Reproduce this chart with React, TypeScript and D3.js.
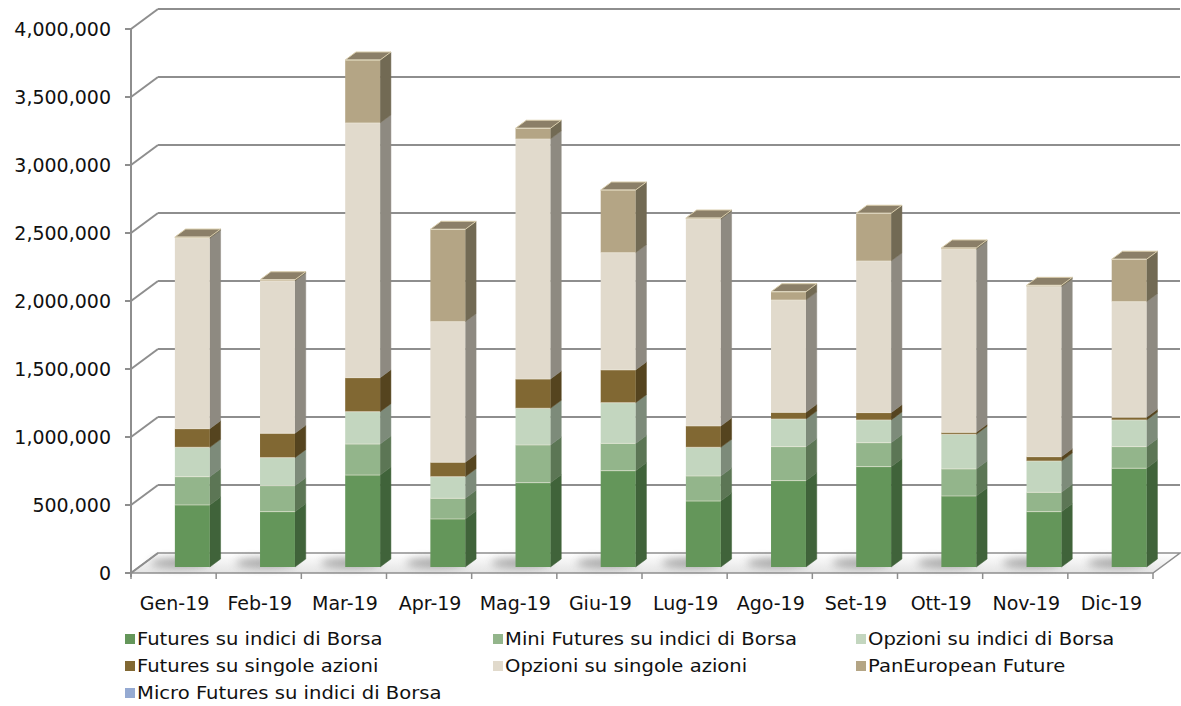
import * as d3 from "d3";

const months = ["Gen-19", "Feb-19", "Mar-19", "Apr-19", "Mag-19", "Giu-19", "Lug-19", "Ago-19", "Set-19", "Ott-19", "Nov-19", "Dic-19"];

const futuresIndici = [456000, 407000, 676000, 353000, 620000, 708000, 485000, 635000, 738000, 522000, 407000, 726000];
const miniFutures = [208000, 191000, 228000, 152000, 277000, 201000, 184000, 250000, 176000, 199000, 142000, 159000];
const opzioniIndici = [216000, 206000, 238000, 159000, 270000, 299000, 211000, 203000, 167000, 255000, 230000, 196000];
const futuresAzioni = [137000, 179000, 250000, 106000, 215000, 241000, 157000, 49000, 54000, 14000, 32000, 20000];
const opzioniAzioni = [1400000, 1120000, 1873000, 1034000, 1765000, 862000, 1520000, 826000, 1115000, 1346000, 1250000, 850000];
const panEuropean = [9000, 9000, 463000, 679000, 79000, 461000, 9000, 61000, 351000, 10000, 10000, 312000];
const microFutures = [0, 0, 0, 0, 0, 0, 0, 0, 0, 0, 0, 0];

const yTicks = [0, 500000, 1000000, 1500000, 2000000, 2500000, 3000000, 3500000, 4000000];

const series = [
  { name: "Futures su indici di Borsa", values: futuresIndici, front: "#64965a", side: "#40633a", top: "#4f7a47" },
  { name: "Mini Futures su indici di Borsa", values: miniFutures, front: "#93b58b", side: "#5c7655", top: "#7a9a72" },
  { name: "Opzioni su indici di Borsa", values: opzioniIndici, front: "#c3d6bf", side: "#7d8b7a", top: "#a3b49f" },
  { name: "Futures su singole azioni", values: futuresAzioni, front: "#816833", side: "#55441f", top: "#6a5528" },
  { name: "Opzioni su singole azioni", values: opzioniAzioni, front: "#e1dacc", side: "#8e8a81", top: "#b8b1a3" },
  { name: "PanEuropean Future", values: panEuropean, front: "#b4a585", side: "#726a54", top: "#8b7f68" },
  { name: "Micro Futures su indici di Borsa", values: microFutures, front: "#95aad2", side: "#5f6f8f", top: "#7a8db3" },
];

export default function App() {
  const width = 1181;
  const height = 706;
  const left = 131;
  const right = 1153;
  const base = 573;
  const depthX = 27;
  const depthY = -20;

  const x = d3.scaleBand().domain(months).range([left, right]).paddingInner(0).paddingOuter(0);
  const y = d3.scaleLinear().domain([0, 4000000]).range([base, 29]);
  const bw = x.bandwidth();

  // bars sit between 0.3 and 0.7 of the floor depth
  const f0 = 0.3;
  const f1 = 0.7;
  const bdx = depthX * (f1 - f0);
  const bdy = depthY * (f1 - f0);
  const barW = bw * 0.41;
  const barOff = bw * 0.42;

  const font = "DejaVu Sans, Verdana, sans-serif";
  const grid = "#8e8e8e";

  const bars = months.map((m, i) => {
    const bx = (x(m) || 0) + barOff + depthX * f0;
    let acc = 0;
    const segs: any[] = [];
    series.forEach((s, si) => {
      const v = s.values[i];
      if (v <= 0) return;
      const y0 = y(acc) + depthY * f0;
      acc += v;
      const y1 = y(acc) + depthY * f0;
      segs.push({ s, si, y0, y1 });
    });
    return { m, bx, segs };
  });

  return (
    <svg width={width} height={height} style={{ position: "absolute", left: 0, top: 0, background: "#fff" }}>
      <defs>
        <linearGradient id="floorGrad" x1="0" y1="0" x2="0" y2="1">
          <stop offset="0" stopColor="#ffffff" />
          <stop offset="1" stopColor="#e4e4e4" />
        </linearGradient>
        <filter id="blur" x="-50%" y="-200%" width="200%" height="500%">
          <feGaussianBlur stdDeviation="4" />
        </filter>
      </defs>

      {/* floor */}
      <path
        d={`M${left},${base}L${right},${base}L${right + depthX},${base + depthY}L${left + depthX},${base + depthY}Z`}
        fill="url(#floorGrad)"
        stroke={grid}
        strokeWidth={1.5}
      />
      {bars.map((b) => (
        <ellipse
          key={"sh" + b.m}
          cx={b.bx + barW / 2 - 12}
          cy={base + depthY * 0.5}
          rx={barW * 0.85}
          ry={5}
          fill="#6f6f6f"
          opacity={0.6}
          filter="url(#blur)"
        />
      ))}

      {/* side wall diagonals and back wall gridlines */}
      {yTicks.map((t) => (
        <g key={"g" + t}>
          <line x1={left} y1={y(t)} x2={left + depthX} y2={y(t) + depthY} stroke={grid} strokeWidth={2} />
          {t > 0 && (
            <line x1={left + depthX} y1={y(t) + depthY} x2={right + depthX} y2={y(t) + depthY} stroke={grid} strokeWidth={2} />
          )}
          <line x1={left - 6} y1={y(t)} x2={left} y2={y(t)} stroke={grid} strokeWidth={2} />
          <text x={111} y={y(t)} dy="0.36em" textAnchor="end" fontFamily={font} fontSize={19} fill="#111">
            {d3.format(",")(t)}
          </text>
        </g>
      ))}
      <line x1={left} y1={y(4000000)} x2={left} y2={base + 4} stroke={grid} strokeWidth={2} />

      {/* x ticks */}
      {months.map((m) => (
        <line key={"xt" + m} x1={x(m) || 0} y1={base} x2={x(m) || 0} y2={base + 6} stroke={grid} strokeWidth={1.5} />
      ))}
      <line x1={right} y1={base} x2={right} y2={base + 6} stroke={grid} strokeWidth={1.5} />

      {/* bars */}
      {bars.map((b) => (
        <g key={"b" + b.m}>
          {b.segs.map((sg: any, k: number) => (
            <g key={k}>
              <path
                d={`M${b.bx + barW},${sg.y0}L${b.bx + barW + bdx},${sg.y0 + bdy}L${b.bx + barW + bdx},${sg.y1 + bdy}L${b.bx + barW},${sg.y1}Z`}
                fill={sg.s.side}
                stroke={sg.s.side}
                strokeWidth={0.5}
              />
              <rect x={b.bx} y={sg.y1} width={barW} height={sg.y0 - sg.y1} fill={sg.s.front} />
            </g>
          ))}
          {b.segs.length > 0 &&
            (() => {
              const last = b.segs[b.segs.length - 1];
              return (
                <path
                  d={`M${b.bx},${last.y1}L${b.bx + barW},${last.y1}L${b.bx + barW + bdx},${last.y1 + bdy}L${b.bx + bdx},${last.y1 + bdy}Z`}
                  fill={last.s.top}
                  stroke="#d8ccaa"
                  strokeWidth={1}
                />
              );
            })()}
          {b.segs.map((sg: any, k: number) => (
            <line key={"e" + k} x1={b.bx} y1={sg.y1} x2={b.bx + barW} y2={sg.y1} stroke="#f3eddf" strokeWidth={0.8} opacity={0.7} />
          ))}
        </g>
      ))}

      {/* x labels */}
      {months.map((m) => (
        <text key={"xl" + m} x={(x(m) || 0) + bw / 2 + 1} y={603} dy="0.36em" textAnchor="middle" fontFamily={font} fontSize={19} fill="#111">
          {m}
        </text>
      ))}

      {/* legend, three columns; text a little wider than the font */}
      {series.map((s, k) => {
        const col = k % 3;
        const row = Math.floor(k / 3);
        const lx = [125, 493, 856][col];
        const ly = 639 + row * 27;
        return (
          <g key={"lg" + k}>
            <rect x={lx} y={ly - 5} width={10} height={10} fill={s.front} />
            <text
              transform={`translate(${lx + 12},${ly}) scale(1.12,1)`}
              dy="0.36em"
              fontFamily={font}
              fontSize={17.5}
              fill="#111"
            >
              {s.name}
            </text>
          </g>
        );
      })}
    </svg>
  );
}
